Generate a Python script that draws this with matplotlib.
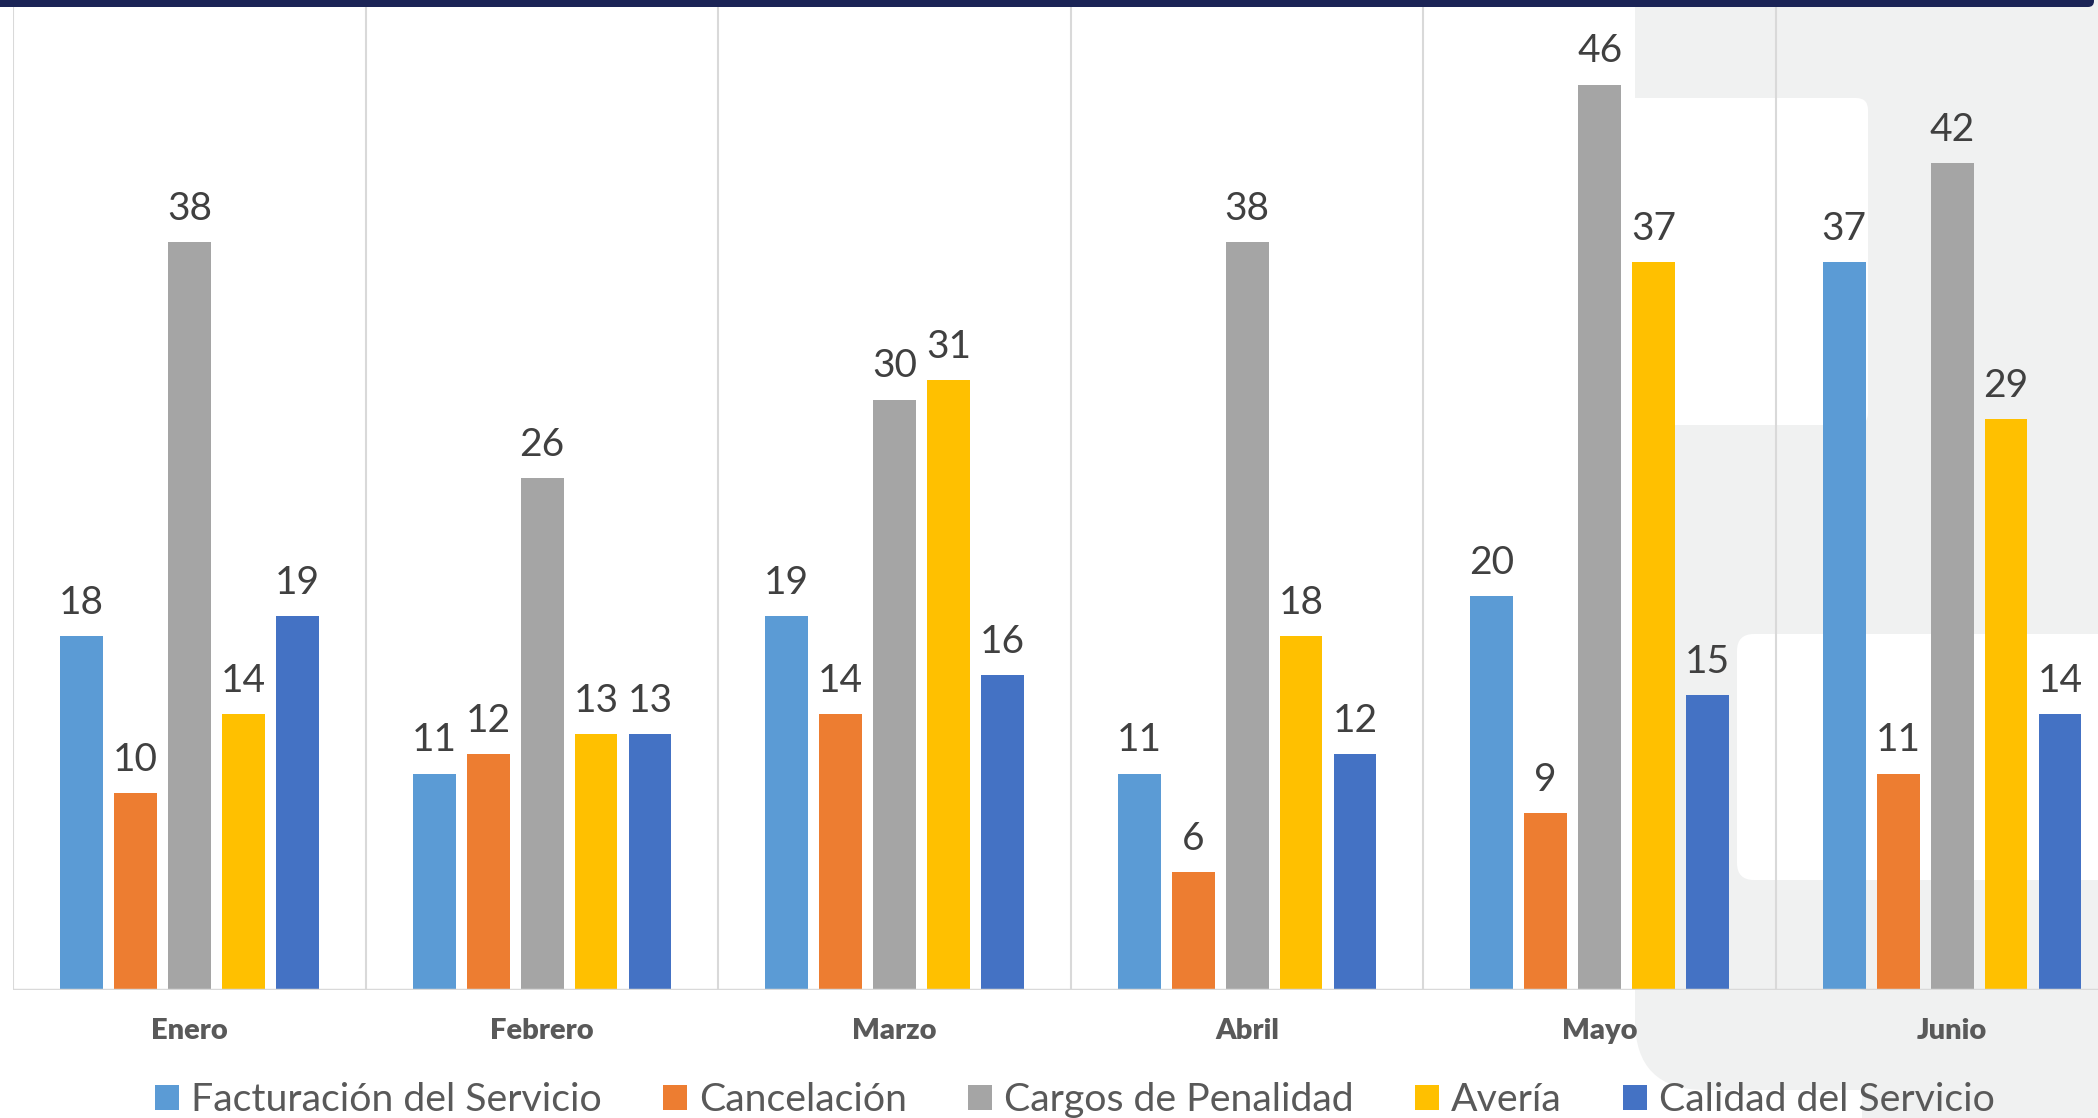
import matplotlib.pyplot as plt
import numpy as np
from matplotlib.patches import FancyBboxPatch

# datos del gráfico
meses = ['Enero', 'Febrero', 'Marzo', 'Abril', 'Mayo', 'Junio']
series = ['Facturación del Servicio', 'Cancelación', 'Cargos de Penalidad', 'Avería', 'Calidad del Servicio']
facturacion = [18, 11, 19, 11, 20, 37]
cancelacion = [10, 12, 14, 6, 9, 11]
cargos = [38, 26, 30, 38, 46, 42]
averia = [14, 13, 31, 18, 37, 29]
calidad = [19, 13, 16, 12, 15, 14]
colores = ['#5b9bd5', '#ed7d31', '#a5a5a5', '#ffc000', '#4472c4']

plt.rcParams['font.family'] = ['Lato', 'DejaVu Sans']

W, H = 2098, 1118
fig = plt.figure(figsize=(W / 100, H / 100), dpi=100)


def caja(x0, y0, x1, y1, r, color, z):
    # rectangulo redondeado en pixeles (origen arriba a la izquierda)
    p = FancyBboxPatch((x0 / 100, (H - y1) / 100), (x1 - x0) / 100, (y1 - y0) / 100,
                       boxstyle=f'round,pad=0,rounding_size={r / 100}',
                       transform=fig.dpi_scale_trans, fc=color, ec='none', zorder=z)
    fig.add_artist(p)


# fondo decorativo
gris = '#f0f1f1'
caja(1635, -300, 2300, 1090, 70, gris, -5)
caja(1862, 1050, 2300, 1300, 20, gris, -5)
caja(1500, 98, 1868, 425, 12, 'white', -4)
caja(1737, 634, 2300, 880, 17, 'white', -4)
caja(-30, -30, 2094, 7, 6, '#1b2456', 5)

ax = fig.add_axes([13.4 / W, 128 / H, 2115 / W, 984 / H])
ax.set_facecolor('none')

x = np.arange(len(meses))
ancho = 0.1215
paso = 0.153
valores = [facturacion, cancelacion, cargos, averia, calidad]
barras = []
for i, (vals, col) in enumerate(zip(valores, colores)):
    pos = x + (i - 2) * paso
    b = ax.bar(pos, vals, ancho, color=col, zorder=3)
    barras.append(b)
    for xp, v in zip(pos, vals):
        ax.annotate(str(v), (xp, v), xytext=(0, 16), textcoords='offset points',
                    ha='center', va='baseline', fontsize=28, color='#404040')

ax.set_xlim(-0.5, 5.5)
ax.set_ylim(0, 50)
ax.set_yticks([])
ax.set_xticks(x)
ax.set_xticklabels(meses, fontsize=21, fontweight='heavy', color='#595959')
ax.set_xticks(np.arange(-0.5, 6, 1), minor=True)
ax.tick_params(which='both', length=0)
ax.tick_params(axis='x', which='major', pad=20)
ax.grid(which='minor', axis='x', color='#d9d9d9', lw=1.5, zorder=0)
for s in ax.spines.values():
    s.set_visible(False)
ax.axhline(0, color='#d9d9d9', lw=2.5, zorder=4)

fig.legend(barras, series, loc='center', bbox_to_anchor=(1075 / W, 18 / H), ncol=5,
           frameon=False, fontsize=28.3, handlelength=0.61, handleheight=0.61,
           handletextpad=0.3, columnspacing=1.56, labelcolor='#595959')

fig.savefig('out.png', dpi=100)
